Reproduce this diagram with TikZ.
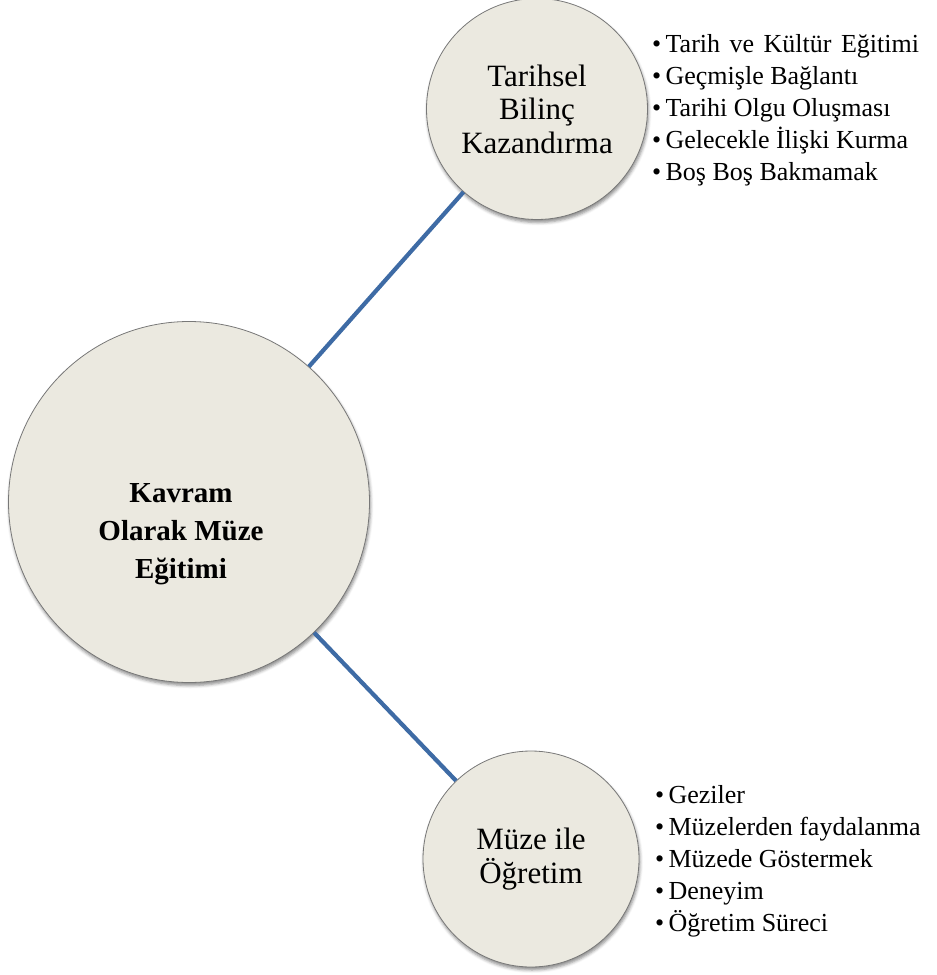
\documentclass[tikz,border=0pt]{standalone}
\usepackage{fontspec}
\setmainfont{Liberation Serif}
\usetikzlibrary{shadows.blur}
\definecolor{bubblefill}{RGB}{235,233,224}
\definecolor{bubbleline}{RGB}{120,120,120}
\definecolor{linkblue}{RGB}{62,107,165}
\tikzset{
  bubble/.style={circle, inner sep=0pt, fill=bubblefill, draw=bubbleline, line width=0.8pt,
    blur shadow={shadow xshift=1pt, shadow yshift=-3pt, shadow blur radius=3pt, shadow opacity=45}},
  link/.style={draw=linkblue, line width=4.2pt},
  bubbletext/.style={align=center, font=\fontsize{31}{33.5}\selectfont},
  centertext/.style={align=center, font=\fontsize{29}{38}\selectfont\bfseries},
  listtext/.style={align=left, anchor=north west, inner sep=0pt, font=\fontsize{26}{32}\selectfont}
}
\begin{document}
\begin{tikzpicture}[x=1pt,y=-1pt]
\useasboundingbox (0,0) rectangle (937,975);
\node[bubble, minimum size=361pt] (big) at (189,502) {};
\node[bubble, minimum size=221pt, bubbletext] (top) at (537,109) {Tarihsel\\Bilinç\\Kazandırma};
\node[bubble, minimum size=216pt, bubbletext] (bot) at (531,859) {Müze ile\\Öğretim};
\node[centertext] (bigtext) at (181,534) {Kavram\\Olarak Müze\\Eğitimi};
\draw[link] (big) -- (top);
\draw[link] (big) -- (bot);
\node[listtext] (toplist) at (652,34) {•\,Tarih\hspace{3pt} ve\hspace{3pt} Kültür\hspace{3pt} Eğitimi\\•\,Geçmişle Bağlantı\\•\,Tarihi Olgu Oluşması\\•\,Gelecekle İlişki Kurma\\•\,Boş Boş Bakmamak};
\node[listtext] (botlist) at (655,785) {•\,Geziler\\•\,Müzelerden faydalanma\\•\,Müzede Göstermek\\•\,Deneyim\\•\,Öğretim Süreci};
\end{tikzpicture}
\end{document}
